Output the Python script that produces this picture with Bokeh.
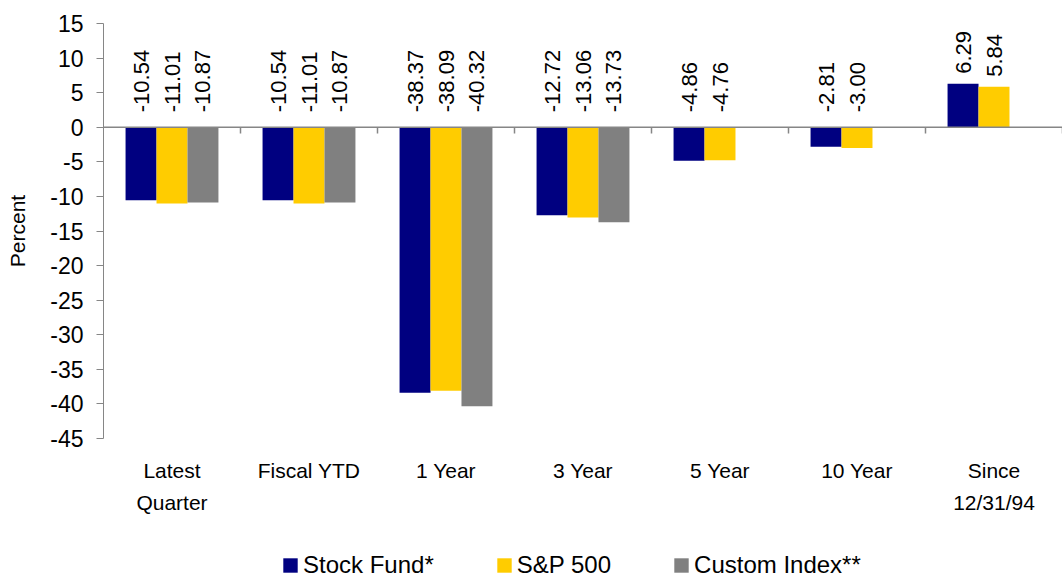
import math
from bokeh.plotting import figure
from bokeh.layouts import column
from bokeh.models import FactorRange, FixedTicker, Span, Legend, LegendItem, ColumnDataSource
from bokeh.transform import dodge
from bokeh.embed import file_html
from bokeh.resources import INLINE

# ---- data ----
categories = ["Latest\nQuarter", "Fiscal YTD", "1 Year", "3 Year", "5 Year", "10 Year", "Since\n12/31/94"]
series_names = ["Stock Fund*", "S&P 500", "Custom Index**"]
stock_fund = [-10.54, -10.54, -38.37, -12.72, -4.86, -2.81, 6.29]
sp500 = [-11.01, -11.01, -38.09, -13.06, -4.76, -3.00, 5.84]
custom_index = [-10.87, -10.87, -40.32, -13.73, None, None, None]
y_ticks = [15, 10, 5, 0, -5, -10, -15, -20, -25, -30, -35, -40, -45]
colors = ["#000080", "#FFCC00", "#808080"]

FONT = "Liberation Sans"
W = 1062
H_MAIN, H_LEG = 530, 49

p = figure(
    x_range=FactorRange(factors=categories, range_padding=0),
    y_range=(-45, 15),
    width=W, height=H_MAIN,
    output_backend="svg", toolbar_location=None,
    min_border_left=103, min_border_right=0, min_border_top=23, min_border_bottom=92,
)
p.outline_line_color = None
p.xgrid.visible = False
p.ygrid.visible = False
p.background_fill_color = "white"
p.border_fill_color = "white"

# y axis
p.yaxis.ticker = FixedTicker(ticks=y_ticks)
p.yaxis.major_label_overrides = {t: str(t) for t in y_ticks}
p.yaxis.minor_tick_line_color = None
p.yaxis.major_tick_in = 0
p.yaxis.major_tick_out = 7
p.yaxis.axis_line_color = "#868686"
p.yaxis.major_tick_line_color = "#868686"
p.yaxis.major_label_text_font = FONT
p.yaxis.major_label_text_font_size = "23px"
p.yaxis.major_label_text_color = "black"
p.yaxis.major_label_standoff = 13
p.yaxis.axis_label = "Percent"
p.yaxis.axis_label_text_font = FONT
p.yaxis.axis_label_text_font_size = "21px"
p.yaxis.axis_label_text_font_style = "normal"
p.yaxis.axis_label_text_color = "black"
p.yaxis.axis_label_standoff = 18

# x axis (labels only)
p.xaxis.axis_line_color = None
p.xaxis.major_tick_line_color = None
p.xaxis.minor_tick_line_color = None
p.xaxis.major_label_text_font = FONT
p.xaxis.major_label_text_font_size = "21px"
p.xaxis.major_label_text_color = "black"
p.xaxis.major_label_text_line_height = 1.4
p.xaxis.major_label_standoff = 14

# zero line and category separators
p.add_layout(Span(location=0, dimension="width", line_color="#868686", line_width=1.5))
sep_src = ColumnDataSource(dict(x=categories))
p.segment(x0=dodge("x", 0.5, range=p.x_range), y0=0,
          x1=dodge("x", 0.5, range=p.x_range), y1=-0.9,
          source=sep_src, line_color="#868686", line_width=1.5)

bar_w = 0.226
offsets = [-bar_w, 0.0, bar_w]
for name, vals, col, off in zip(series_names, [stock_fund, sp500, custom_index], colors, offsets):
    xs = [c for c, v in zip(categories, vals) if v is not None]
    vs = [v for v in vals if v is not None]
    src = ColumnDataSource(dict(
        x=xs, top=vs,
        label=["%.2f" % v for v in vs],
        ly=[max(v, 0) for v in vs],
        yoff=[-15 if v < 0 else -10 for v in vs],
    ))
    p.vbar(x=dodge("x", off, range=p.x_range), top="top", bottom=0, width=bar_w,
           source=src, fill_color=col, line_color=None)
    p.text(x=dodge("x", off, range=p.x_range), y="ly", text="label", source=src,
           angle=math.pi / 2, text_align="left", text_baseline="middle",
           y_offset="yoff", text_font={"value": FONT}, text_font_size="22px",
           text_color="black")

# legend strip (separate figure below the chart; frames are aligned by the column)
lf = figure(width=W, height=H_LEG, x_range=(0, 1), y_range=(0, 1),
            output_backend="svg", toolbar_location=None,
            x_axis_type=None, y_axis_type=None,
            min_border_left=0, min_border_right=0, min_border_top=0, min_border_bottom=0)
lf.outline_line_color = None
lf.xgrid.visible = False
lf.ygrid.visible = False
lf.background_fill_color = "white"
lf.border_fill_color = "white"
items = []
for name, col in zip(series_names, colors):
    # zero-height proxy bar: invisible in the strip, but gives the legend its swatch colour
    r = lf.vbar(x=[0.5], top=[0], bottom=0, width=0, fill_color=col, line_color=None)
    items.append(LegendItem(label=name, renderers=[r]))
legend = Legend(items=items, orientation="horizontal", location=(178, 0),
                glyph_width=18, glyph_height=18, label_standoff=4, spacing=61,
                padding=0, margin=0, border_line_color=None, background_fill_alpha=0,
                label_text_font=FONT, label_text_font_size="24px", label_text_color="black",
                label_height=18)
lf.add_layout(legend, "center")

layout = column(p, lf, spacing=0)
open("out.html", "w").write(file_html(layout, INLINE))
